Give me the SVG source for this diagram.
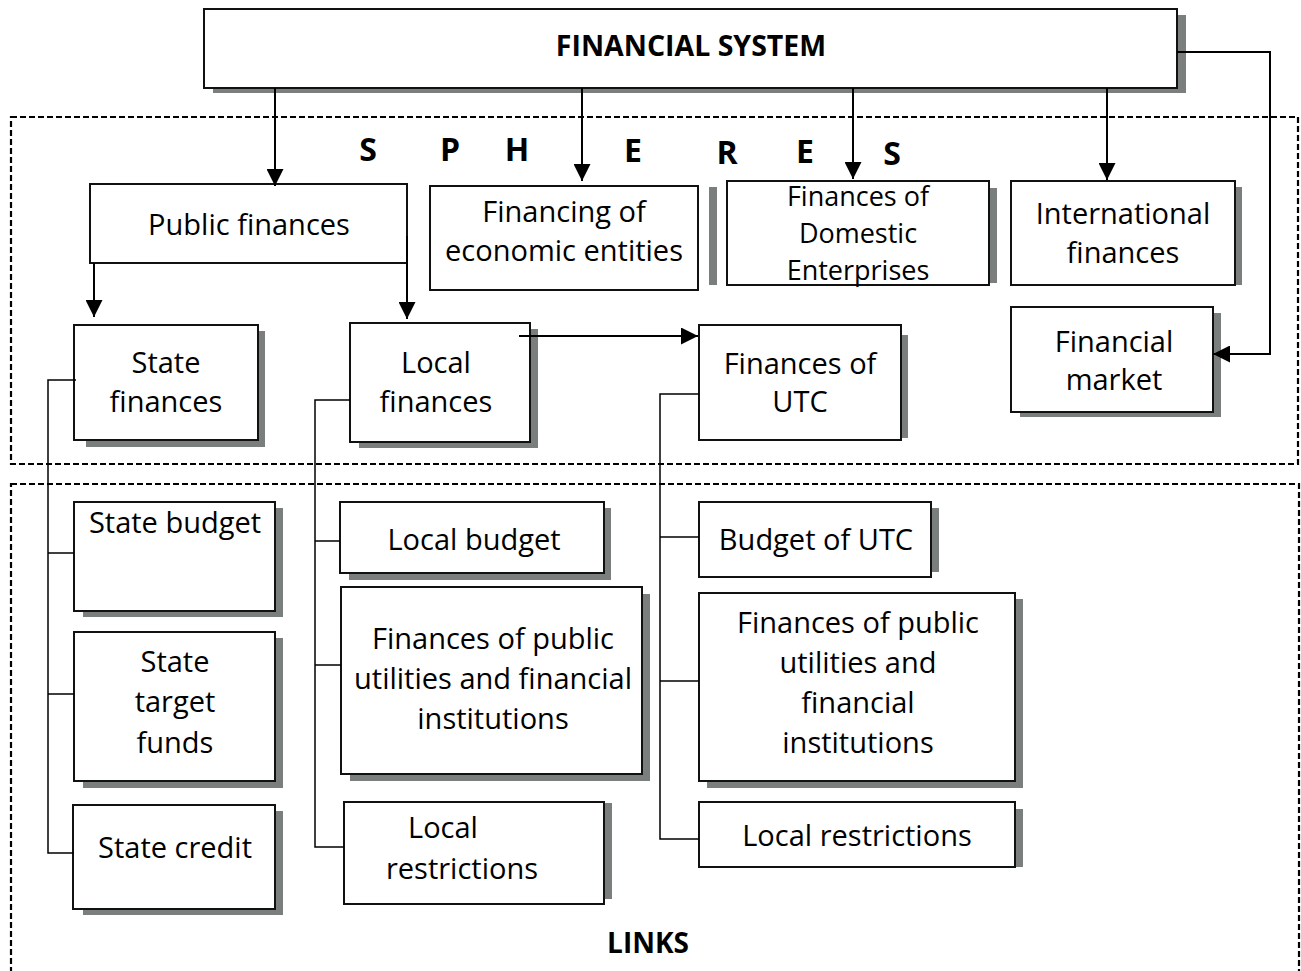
<svg xmlns="http://www.w3.org/2000/svg" width="1301" height="971" viewBox="0 0 1301 971">
  <style>
    .box { fill: #ffffff; stroke: #111111; stroke-width: 2; }
    .shadow { fill: #7a7f7d; }
    .zone { fill: none; stroke: #000000; stroke-width: 2.2; stroke-dasharray: 6 3; }
    .lbl { font-family: "Open Sans", "Noto Sans", sans-serif; font-size: 29px; fill: #000000; text-anchor: middle; }
    .tight { font-size: 27px; }
    .head { font-family: "Open Sans", "Noto Sans", sans-serif; font-weight: bold; fill: #000000; text-anchor: middle; }
    .arrow { fill: none; stroke: #000000; stroke-width: 2; marker-end: url(#tip); }
    .tree { fill: none; stroke: #000000; stroke-width: 1.5; }
  </style>
  <defs>
    <marker id="tip" markerUnits="userSpaceOnUse" markerWidth="17" markerHeight="17" refX="17" refY="8.5" orient="auto">
      <path d="M0,0 L17,8.5 L0,17 z" fill="#000000"/>
    </marker>
  </defs>

  <rect width="1301" height="971" fill="#ffffff"/>

  <!-- dashed zones -->
  <g id="zones">
    <rect class="zone" x="11" y="117" width="1287" height="347"/>
    <rect class="zone" x="11" y="484" width="1288" height="500"/>
    <g class="head" font-size="32">
      <text x="368" y="161">S</text>
      <text x="450" y="161">P</text>
      <text x="517" y="161">H</text>
      <text x="633" y="162">E</text>
      <text x="727" y="164">R</text>
      <text x="805" y="163">E</text>
      <text x="892" y="165">S</text>
    </g>
    <text class="head" font-size="28" x="648" y="953">LINKS</text>
  </g>

  <!-- top node -->
  <g id="financial-system">
    <rect class="shadow" x="213" y="15" width="973" height="78"/>
    <rect class="box" x="204" y="9" width="973" height="79"/>
    <text class="head" font-size="28.5" x="691" y="56">FINANCIAL SYSTEM</text>
  </g>

  <!-- spheres -->
  <g id="public-finances">
    <rect class="box" x="90" y="184" width="317" height="79"/>
    <text class="lbl" x="249" y="235">Public finances</text>
  </g>

  <g id="economic-entities">
    <rect class="shadow" x="709" y="187" width="8" height="98"/>
    <rect class="box" x="430" y="186" width="268" height="104"/>
    <text class="lbl" x="564" y="222">Financing of</text>
    <text class="lbl" x="564" y="261">economic entities</text>
  </g>

  <g id="domestic-enterprises">
    <rect class="shadow" x="989" y="188" width="8" height="95"/>
    <rect class="box" x="727" y="181" width="262" height="104"/>
    <text class="lbl tight" x="858" y="206">Finances of</text>
    <text class="lbl tight" x="858" y="243">Domestic</text>
    <text class="lbl tight" x="858" y="280">Enterprises</text>
  </g>

  <g id="international-finances">
    <rect class="shadow" x="1235" y="187" width="7" height="98"/>
    <rect class="box" x="1011" y="181" width="224" height="104"/>
    <text class="lbl" x="1123" y="224">International</text>
    <text class="lbl" x="1123" y="263">finances</text>
  </g>

  <g id="financial-market">
    <rect class="shadow" x="1020" y="313" width="201" height="104"/>
    <rect class="box" x="1011" y="307" width="202" height="105"/>
    <text class="lbl" x="1114" y="352">Financial</text>
    <text class="lbl" x="1114" y="390">market</text>
  </g>

  <g id="state-finances">
    <rect class="shadow" x="86" y="331" width="179" height="116"/>
    <rect class="box" x="74" y="325" width="184" height="115"/>
    <text class="lbl" x="166" y="373">State</text>
    <text class="lbl" x="166" y="412">finances</text>
  </g>

  <g id="local-finances">
    <rect class="shadow" x="359" y="329" width="179" height="119"/>
    <rect class="box" x="350" y="323" width="180" height="119"/>
    <text class="lbl" x="436" y="373">Local</text>
    <text class="lbl" x="436" y="412">finances</text>
  </g>

  <g id="utc-finances">
    <rect class="shadow" x="901" y="335" width="7" height="103"/>
    <rect class="box" x="699" y="325" width="202" height="115"/>
    <text class="lbl" x="800" y="374">Finances of</text>
    <text class="lbl" x="800" y="412">UTC</text>
  </g>

  <!-- links: state -->
  <g id="state-budget">
    <rect class="shadow" x="83" y="508" width="200" height="109"/>
    <rect class="box" x="74" y="502" width="201" height="109"/>
    <text class="lbl" x="175" y="533">State budget</text>
  </g>

  <g id="state-target-funds">
    <rect class="shadow" x="83" y="638" width="200" height="150"/>
    <rect class="box" x="74" y="632" width="201" height="149"/>
    <text class="lbl" x="175" y="672">State</text>
    <text class="lbl" x="175" y="712">target</text>
    <text class="lbl" x="175" y="753">funds</text>
  </g>

  <g id="state-credit">
    <rect class="shadow" x="83" y="811" width="200" height="104"/>
    <rect class="box" x="73" y="805" width="202" height="104"/>
    <text class="lbl" x="175" y="858">State credit</text>
  </g>

  <!-- links: local -->
  <g id="local-budget">
    <rect class="shadow" x="349" y="508" width="262" height="72"/>
    <rect class="box" x="340" y="502" width="264" height="71"/>
    <text class="lbl" x="474" y="550">Local budget</text>
  </g>

  <g id="local-utilities">
    <rect class="shadow" x="350" y="594" width="300" height="187"/>
    <rect class="box" x="341" y="587" width="301" height="187"/>
    <text class="lbl" x="493" y="649">Finances of public</text>
    <text class="lbl" x="493" y="689">utilities and financial</text>
    <text class="lbl" x="493" y="729">institutions</text>
  </g>

  <g id="local-restrictions">
    <rect class="shadow" x="604" y="803" width="8" height="96"/>
    <rect class="box" x="344" y="802" width="260" height="102"/>
    <text class="lbl" x="443" y="838">Local</text>
    <text class="lbl" x="462" y="879">restrictions</text>
  </g>

  <!-- links: UTC -->
  <g id="utc-budget">
    <rect class="shadow" x="932" y="508" width="7" height="64"/>
    <rect class="box" x="699" y="502" width="232" height="75"/>
    <text class="lbl" x="816" y="550">Budget of UTC</text>
  </g>

  <g id="utc-utilities">
    <rect class="shadow" x="707" y="599" width="316" height="189"/>
    <rect class="box" x="699" y="593" width="316" height="188"/>
    <text class="lbl" x="858" y="633">Finances of public</text>
    <text class="lbl" x="858" y="673">utilities and</text>
    <text class="lbl" x="858" y="713">financial</text>
    <text class="lbl" x="858" y="753">institutions</text>
  </g>

  <g id="utc-restrictions">
    <rect class="shadow" x="1016" y="809" width="7" height="58"/>
    <rect class="box" x="699" y="802" width="316" height="65"/>
    <text class="lbl" x="857" y="846">Local restrictions</text>
  </g>

  <!-- connectors -->
  <g id="connectors">
    <path class="arrow" d="M275,88 V186"/>
    <path class="arrow" d="M582,88 V181"/>
    <path class="arrow" d="M853,88 V179"/>
    <path class="arrow" d="M1107,88 V180"/>
    <path class="arrow" stroke-width="1.5" d="M1177,52 H1270 V354 H1213"/>
    <path class="arrow" d="M94,263 V317"/>
    <path class="arrow" d="M407,236 V319"/>
    <path class="arrow" d="M519,336 H698"/>
    <path class="tree" d="M76,380 H48 V853 H74 M48,553 H74 M48,694 H74"/>
    <path class="tree" d="M350,400 H315 V847 H344 M315,541 H340 M315,665 H341"/>
    <path class="tree" d="M699,394 H660 V839 H699 M660,537 H699 M660,681 H699"/>
  </g>
</svg>
